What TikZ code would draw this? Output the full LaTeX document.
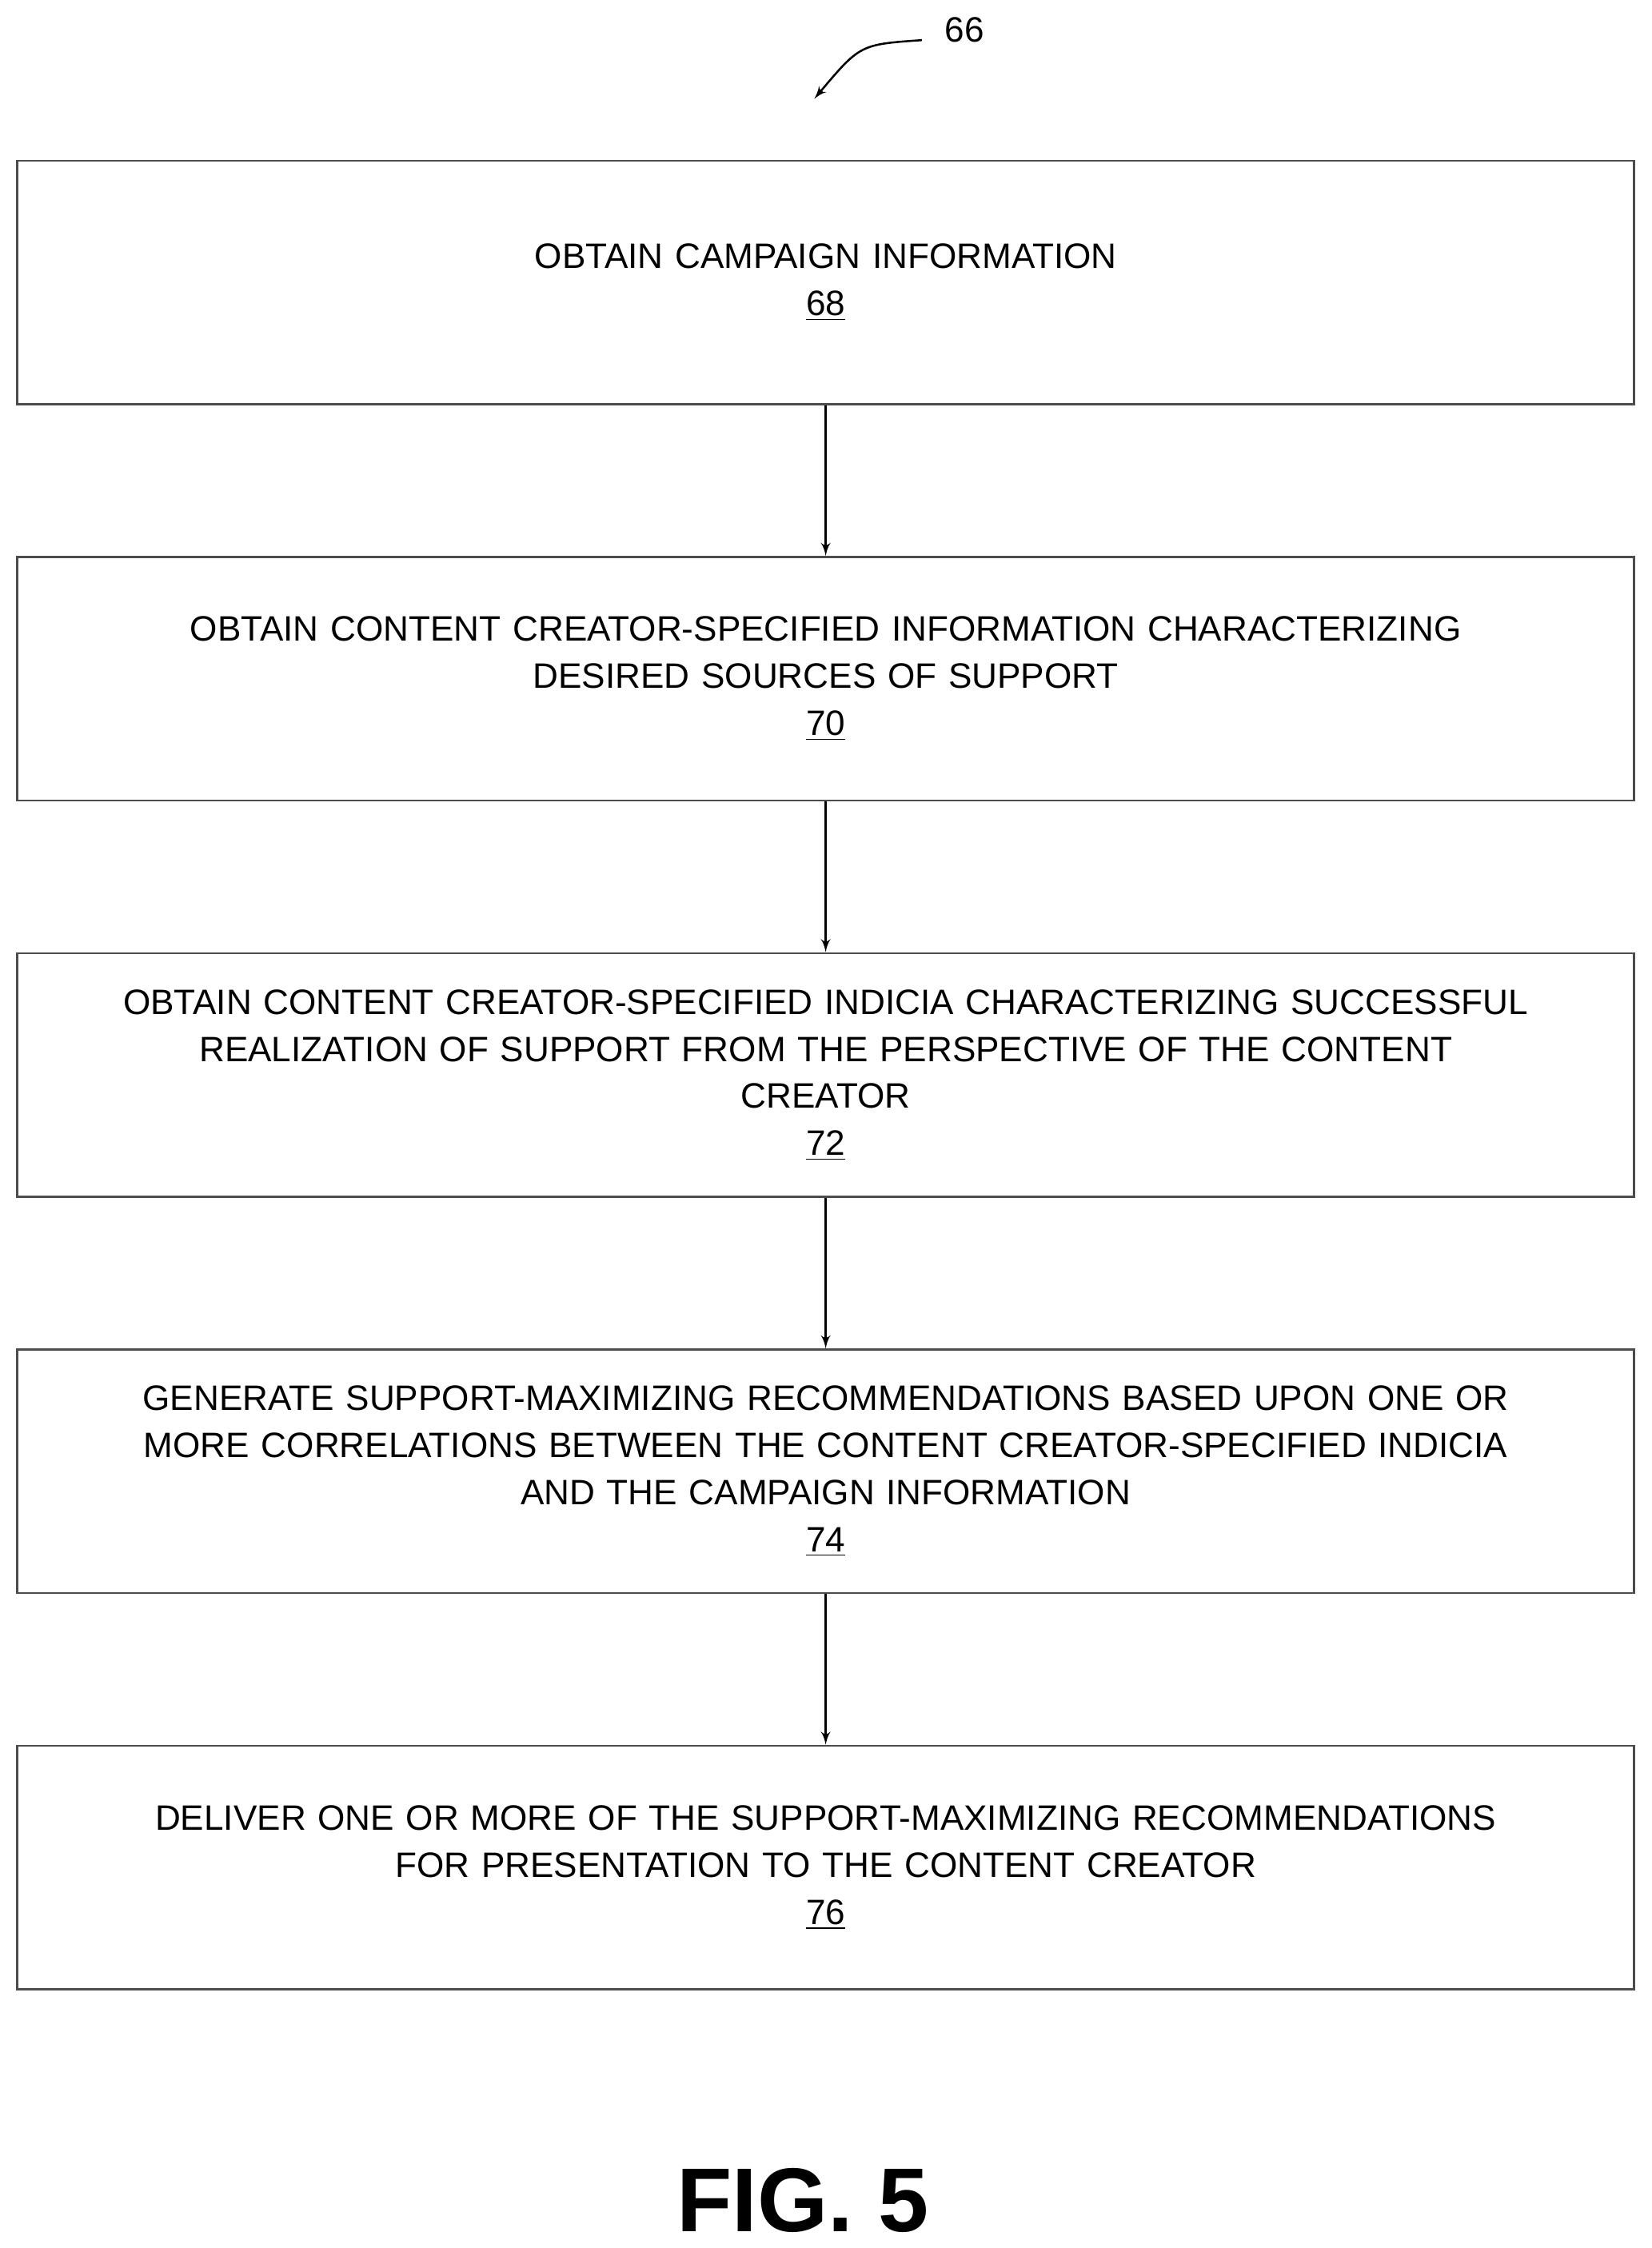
\documentclass[tikz,border=0pt]{standalone}
\usepackage{fontspec}
\setmainfont{Liberation Sans}
\usetikzlibrary{arrows,positioning}

\tikzset{
  stepbox/.style={draw=black!70, thick, minimum width=22.56cm, minimum height=3.4cm,
    text width=22.3cm, align=center, font=\fontsize{14pt}{18.7pt}\selectfont},
}

\begin{document}
\begin{tikzpicture}[>=latex']
  \useasboundingbox (0,0) rectangle (23.04cm,-31.36cm);

  \node [stepbox] (s68) at (11.52cm,-3.94cm) {OBTAIN CAMPAIGN INFORMATION\\\underline{68}};
  \node [stepbox, below=2.1cm of s68] (s70) {OBTAIN CONTENT CREATOR-SPECIFIED INFORMATION CHARACTERIZING\\DESIRED SOURCES OF SUPPORT\\\underline{70}};
  \node [stepbox, below=2.1cm of s70] (s72) {OBTAIN CONTENT CREATOR-SPECIFIED INDICIA CHARACTERIZING SUCCESSFUL\\REALIZATION OF SUPPORT FROM THE PERSPECTIVE OF THE CONTENT\\CREATOR\\\underline{72}};
  \node [stepbox, below=2.1cm of s72] (s74) {GENERATE SUPPORT-MAXIMIZING RECOMMENDATIONS BASED UPON ONE OR\\MORE CORRELATIONS BETWEEN THE CONTENT CREATOR-SPECIFIED INDICIA\\AND THE CAMPAIGN INFORMATION\\\underline{74}};
  \node [stepbox, below=2.1cm of s74] (s76) {DELIVER ONE OR MORE OF THE SUPPORT-MAXIMIZING RECOMMENDATIONS\\FOR PRESENTATION TO THE CONTENT CREATOR\\\underline{76}};

  \draw [->, thick] (s68) -- (s70);
  \draw [->, thick] (s70) -- (s72);
  \draw [->, thick] (s72) -- (s74);
  \draw [->, thick] (s74) -- (s76);

  % figure reference
  \node [font=\fontsize{14pt}{16pt}\selectfont] (ref) at (13.46cm,-0.42cm) {66};
  \coordinate (refend) at (11.36cm,-1.38cm);
  \draw [->, thick] (ref.west) ++(-0.2cm,-0.14cm) .. controls (12cm,-0.62cm) .. (refend);

  \node [font=\bfseries\fontsize{36pt}{40pt}\selectfont] (fig) at (11.2cm,-30.7cm) {FIG. 5};
\end{tikzpicture}
\end{document}
